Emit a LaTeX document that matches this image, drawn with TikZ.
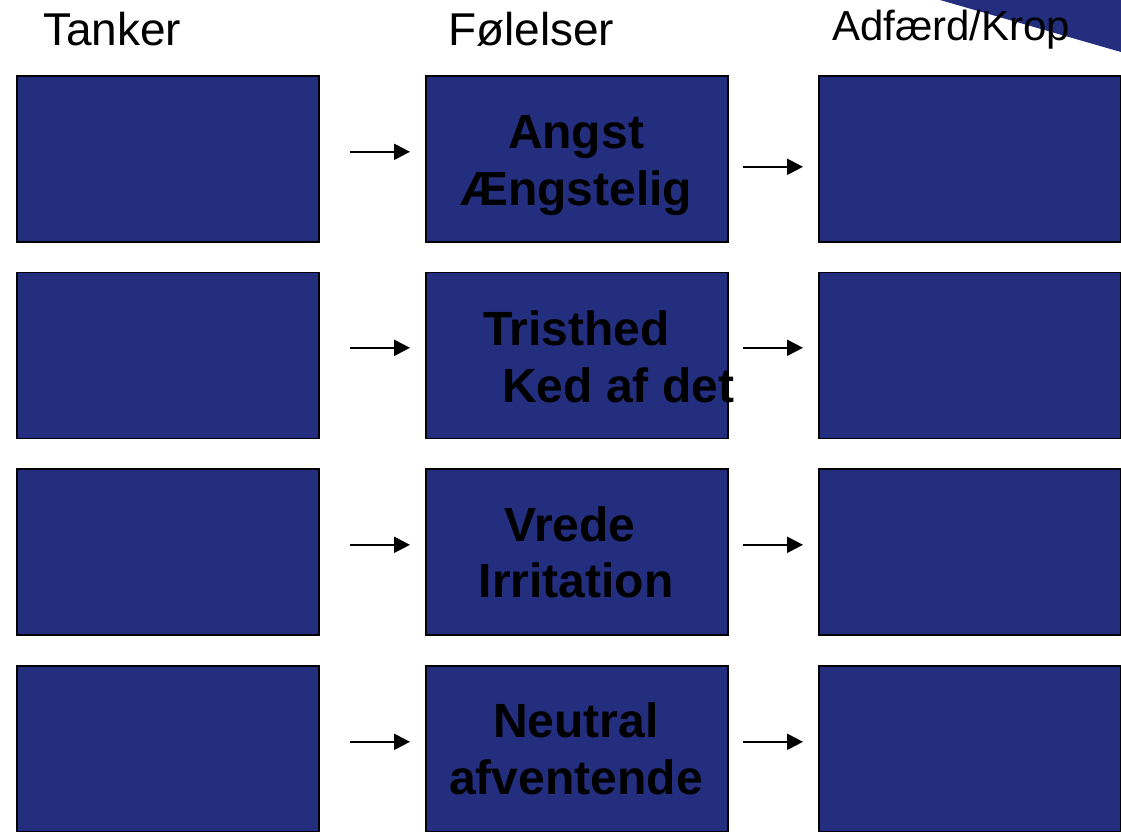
\documentclass[tikz,border=0pt]{standalone}
\usepackage{fontspec}
\setmainfont{Liberation Sans}
\usetikzlibrary{arrows.meta}
\definecolor{navy}{RGB}{35,46,127}
\begin{document}
\begin{tikzpicture}[x=1pt,y=-1pt,
  box/.style={draw=black,line width=1.6pt,fill=navy,minimum width=302pt,minimum height=166pt,inner sep=0pt,anchor=north west},
  head/.style={inner sep=0pt,anchor=base west,font=\fontsize{46}{50}\selectfont},
  emo/.style={inner sep=0pt,anchor=base,font=\fontsize{48}{57}\selectfont\bfseries},
  arr/.style={line width=2.2pt,-{Triangle[length=16pt,width=16pt]}}]
\clip (0,0) rectangle (1121,831);
\fill[navy] (940,0) -- (1121,0) -- (1121,52) -- cycle;
\node[head] (h1) at (43,45) {Tanker};
\node[head] (h2) at (448,45) {Følelser};
\node[head,font=\fontsize{42}{46}\selectfont] (h3) at (832,40) {Adfærd/Krop};
\foreach \i/\y in {1/75,2/271.5,3/468,4/665}{
  \node[box] (t\i) at (16,\y) {};
  \node[box] (f\i) at (425,\y) {};
  \node[box] (k\i) at (818,\y) {};
}
\draw[arr] ([shift={(30,-7)}]t1.east) -- ([shift={(-15,-7)}]f1.west);
\draw[arr] ([shift={(14,8)}]f1.east) -- ([shift={(-15,8)}]k1.west);
\foreach \i/\d in {2/-7.5,3/-7,4/-7}{
  \draw[arr] ([shift={(30,\d)}]t\i.east) -- ([shift={(-15,\d)}]f\i.west);
  \draw[arr] ([shift={(14,\d)}]f\i.east) -- ([shift={(-15,\d)}]k\i.west);
}
\node[emo] (e1a) at (576,148) {Angst};
\node[emo] (e1b) at (576,205) {Ængstelig};
\node[emo,anchor=base west] (e2a) at (483,345) {Tristhed};
\node[emo,anchor=base west] (e2b) at (502,402) {Ked af det};
\node[emo] (e3a) at (570,541) {Vrede};
\node[emo] (e3b) at (576,597) {Irritation};
\node[emo] (e4a) at (576,737) {Neutral};
\node[emo] (e4b) at (576,794) {afventende};
\end{tikzpicture}
\end{document}
